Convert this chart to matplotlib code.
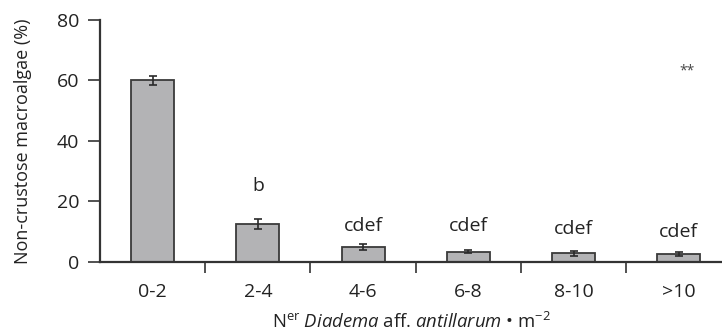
import matplotlib.pyplot as plt
import numpy as np

plt.rcParams['font.family'] = ['Open Sans', 'DejaVu Sans']
plt.rcParams['mathtext.fontset'] = 'custom'
plt.rcParams['mathtext.rm'] = 'Open Sans'
plt.rcParams['mathtext.it'] = 'Open Sans:italic'

categories = ["0-2", "2-4", "4-6", "6-8", "8-10", ">10"]
cover = [60.0, 12.5, 4.9, 3.4, 2.8, 2.7]
sem = [1.5, 1.6, 0.9, 0.6, 0.8, 0.6]
letters = ["", "b", "cdef", "cdef", "cdef", "cdef"]
letter_y = [None, 25.0, 12.0, 12.0, 11.0, 10.0]

fig = plt.figure(figsize=(7.22, 3.35), dpi=100)
ax = fig.add_axes([0.1385, 0.218, 0.8615, 0.7224])

x = np.arange(len(categories))
ax.bar(x, cover, width=0.41, color="#b3b3b5", edgecolor="#3a3a3a", linewidth=1.3, zorder=2)
ax.errorbar(x, cover, yerr=sem, fmt="none", ecolor="#2a2a2a", elinewidth=1.2,
            capsize=3, capthick=1.2, zorder=3)

for xi, lab, ly in zip(x, letters, letter_y):
    if lab:
        ax.text(xi, ly, lab, ha="center", va="center", fontsize=14, color="#222222")
ax.text(5.08, 63.0, "**", ha="center", va="center", fontsize=10, color="#444444")

ax.set_xlim(-0.5, 5.41)
ax.set_ylim(0, 80)
ax.set_yticks([0, 20, 40, 60, 80])
ax.set_xticks(x)
ax.set_xticklabels(categories)
ax.set_xticks(x[:-1] + 0.5, minor=True)
ax.tick_params(axis="x", which="major", length=0, pad=15, labelsize=14, colors="#222222")
ax.tick_params(axis="x", which="minor", length=8, width=1.2, direction="out", color="#333333")
ax.tick_params(axis="y", length=9, width=1.2, labelsize=14, pad=6, color="#333333", labelcolor="#222222")

for s in ["top", "right"]:
    ax.spines[s].set_visible(False)
for s in ["left", "bottom"]:
    ax.spines[s].set_linewidth(1.6)
    ax.spines[s].set_color("#333333")

ax.set_ylabel("Non-crustose macroalgae (%)", fontsize=13, color="#222222", labelpad=18)
ax.set_xlabel(r"N$^{\mathrm{er}}$ $\it{Diadema}$ aff. $\it{antillarum}$ • m$^{-2}$",
              fontsize=13.3, color="#222222", labelpad=8)

fig.savefig("out.png", dpi=100)
